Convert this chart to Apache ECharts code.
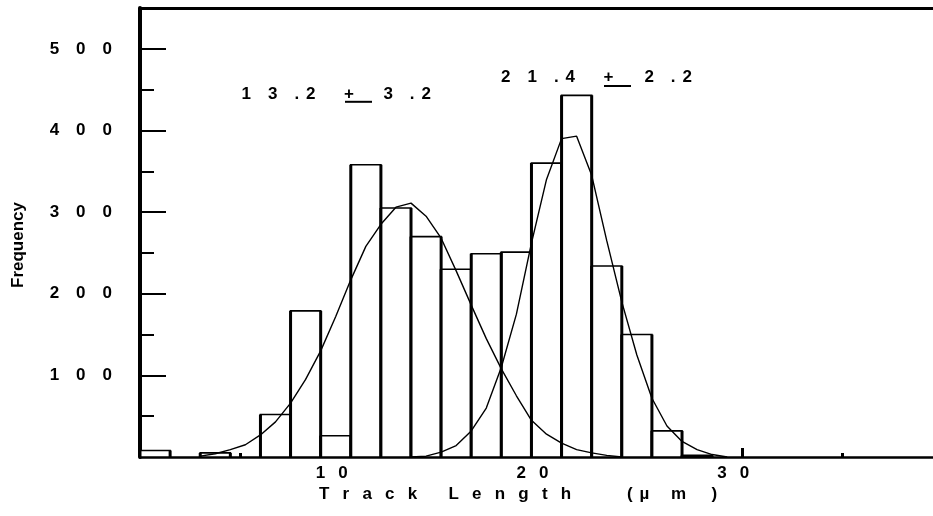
<!DOCTYPE html>
<html>
<head>
<meta charset="utf-8">
<script src="https://cdn.jsdelivr.net/npm/echarts@6/dist/echarts.min.js"></script>
<style>
  html, body { margin: 0; padding: 0; background: #fff; }
  #chart { width: 933px; height: 516px; }
</style>
</head>
<body>
<div id="chart"></div>
<script>
// histogram bins (track length, µm) - left edge of each 1.5 µm bin
const binStart = [0, 1.5, 3, 4.5, 6, 7.5, 9, 10.5, 12, 13.5, 15, 16.5, 18, 19.5, 21, 22.5, 24, 25.5, 27]
const binWidth = 1.5
const counts = [8, 0, 5, 0, 52, 179, 26, 358, 305, 270, 230, 249, 251, 360, 443, 234, 150, 32, 2]

// fitted curves as [length, frequency]
const fitShort = [
  [3, 1], [3.75, 4], [4.5, 9], [5.25, 15], [6, 27], [6.75, 43], [7.5, 66], [8.25, 95],
  [9, 130], [9.75, 172], [10.5, 217], [11.25, 258], [12, 285], [12.75, 306], [13.5, 311],
  [14.25, 295], [15, 268], [15.75, 228], [16.5, 186], [17.25, 145], [18, 108], [18.75, 75],
  [19.5, 45], [20.25, 28], [21, 17], [21.75, 9], [22.5, 5], [23.25, 2], [24, 0],
]
const fitLong = [
  [13.5, 0], [14.25, 1], [15, 6], [15.75, 14], [16.5, 32], [17.25, 60], [18, 110],
  [18.75, 175], [19.5, 262], [20.25, 340], [21, 390], [21.75, 393], [22.5, 345],
  [23.25, 265], [24, 190], [24.75, 125], [25.5, 72], [26.25, 38], [27, 19], [27.75, 9],
  [28.5, 3], [29.25, 0],
]

const FONT = '"Liberation Sans", Arial, sans-serif'
const EM = '\u2003'
const EN = '\u2002'
const THIN = '\u2009'

const chart = echarts.init(document.getElementById('chart'), null, { renderer: 'canvas' })

const txt = (x, y, text, extra) => Object.assign({
  type: 'text',
  x, y,
  style: {
    text, fill: '#000', font: 'bold 17px ' + FONT,
    align: 'left', verticalAlign: 'middle',
  },
}, extra || {})

chart.setOption({
  animation: false,
  backgroundColor: '#fff',
  // x runs to 40 µm just past the right edge of the window
  grid: { left: 140, width: 803, top: 8, bottom: 59, outerBoundsMode: 'none', containLabel: false },
  xAxis: [
    {
      type: 'value', min: 0, max: 40, interval: 10, position: 'bottom',
      axisLine: { show: true, lineStyle: { color: '#000', width: 2.5 } },
      axisTick: { show: true, inside: true, length: 9, lineStyle: { color: '#000', width: 3 } },
      minorTick: { show: true, splitNumber: 2, length: 4, lineStyle: { color: '#000', width: 3 } },
      splitLine: { show: false },
      axisLabel: {
        showMinLabel: false, showMaxLabel: false, margin: 8,
        color: '#000', fontWeight: 'bold', fontSize: 17, fontFamily: FONT,
        padding: [0, 18, 0, 0],
        formatter: v => String(v).split('').join(EN + ' '),
      },
    },
    {
      type: 'value', min: 0, max: 40, position: 'top',
      axisLine: { show: true, onZero: false, lineStyle: { color: '#000', width: 3 } },
      axisTick: { show: false }, axisLabel: { show: false }, splitLine: { show: false },
    },
  ],
  yAxis: [
    {
      type: 'value', min: 0, max: 550, interval: 100, position: 'left',
      axisLine: { show: true, lineStyle: { color: '#000', width: 4 } },
      axisTick: { show: true, inside: true, length: 26, lineStyle: { color: '#000', width: 2 } },
      splitLine: { show: false },
      axisLabel: {
        showMinLabel: false, showMaxLabel: false, margin: 28,
        color: '#000', fontWeight: 'bold', fontSize: 17, fontFamily: FONT,
        formatter: v => String(v).split('').join(EM),
      },
    },
    {
      type: 'value', min: 0, max: 550, interval: 50, position: 'left',
      axisLine: { show: false },
      axisTick: { show: true, inside: true, length: 14, lineStyle: { color: '#000', width: 2 } },
      axisLabel: { show: false }, splitLine: { show: false },
    },
  ],
  graphic: [
    // axis titles
    txt(319, 494, ['T', 'r', 'a', 'c', 'k'].join(EN + ' ') + EN + '  ' + EN + ' ' +
      ['L', 'e', 'n', 'g', 't', 'h'].join(EN + ' ') + EM + EM + EM + ' (' + THIN + THIN + 'µ' + EM + ' m' + EM + EN + ')'),
    txt(18.5, 245, 'Frequency', {
      rotation: Math.PI / 2,
      style: { text: 'Frequency', fill: '#000', font: 'bold 17px ' + FONT, align: 'center', verticalAlign: 'middle' },
    }),
    // fit annotations
    txt(241.5, 94, '1' + EM + '3' + EM + '.' + THIN + THIN + '2'),
    txt(344, 94, '+'),
    { type: 'line', shape: { x1: 345, y1: 101.8, x2: 372, y2: 101.8 }, style: { stroke: '#000', lineWidth: 2 } },
    txt(383.4, 94, '3' + EM + '.' + THIN + THIN + '2'),
    txt(501, 77.3, '2' + EM + '1' + EM + '.' + THIN + THIN + '4'),
    txt(603.5, 77.3, '+'),
    { type: 'line', shape: { x1: 604, y1: 86, x2: 631, y2: 86 }, style: { stroke: '#000', lineWidth: 2 } },
    txt(644.4, 77.3, '2' + EM + '.' + THIN + THIN + '2'),
  ],
  series: [
    {
      type: 'custom',
      xAxisIndex: 0, yAxisIndex: 0,
      data: binStart.map((s, i) => [s, s + binWidth, counts[i]]),
      encode: { x: [0, 1], y: 2 },
      z: 2,
      renderItem: (params, api) => {
        const h = api.value(2)
        if (!h) return
        const tl = api.coord([api.value(0), h])
        const br = api.coord([api.value(1), 0])
        return {
          type: 'group',
          children: [
            {
              type: 'rect',
              shape: { x: tl[0], y: tl[1], width: br[0] - tl[0], height: br[1] - tl[1] },
              style: { fill: '#fff', stroke: '#000', lineWidth: 1.6 },
            },
            { type: 'line', shape: { x1: tl[0], y1: tl[1], x2: tl[0], y2: br[1] }, style: { stroke: '#000', lineWidth: 3 } },
            { type: 'line', shape: { x1: br[0], y1: tl[1], x2: br[0], y2: br[1] }, style: { stroke: '#000', lineWidth: 3 } },
          ],
        }
      },
    },
    {
      type: 'line', data: fitShort, showSymbol: false, z: 5,
      lineStyle: { color: '#000', width: 1.4 },
    },
    {
      type: 'line', data: fitLong, showSymbol: false, z: 5,
      lineStyle: { color: '#000', width: 1.4 },
    },
  ],
})
</script>
</body>
</html>
